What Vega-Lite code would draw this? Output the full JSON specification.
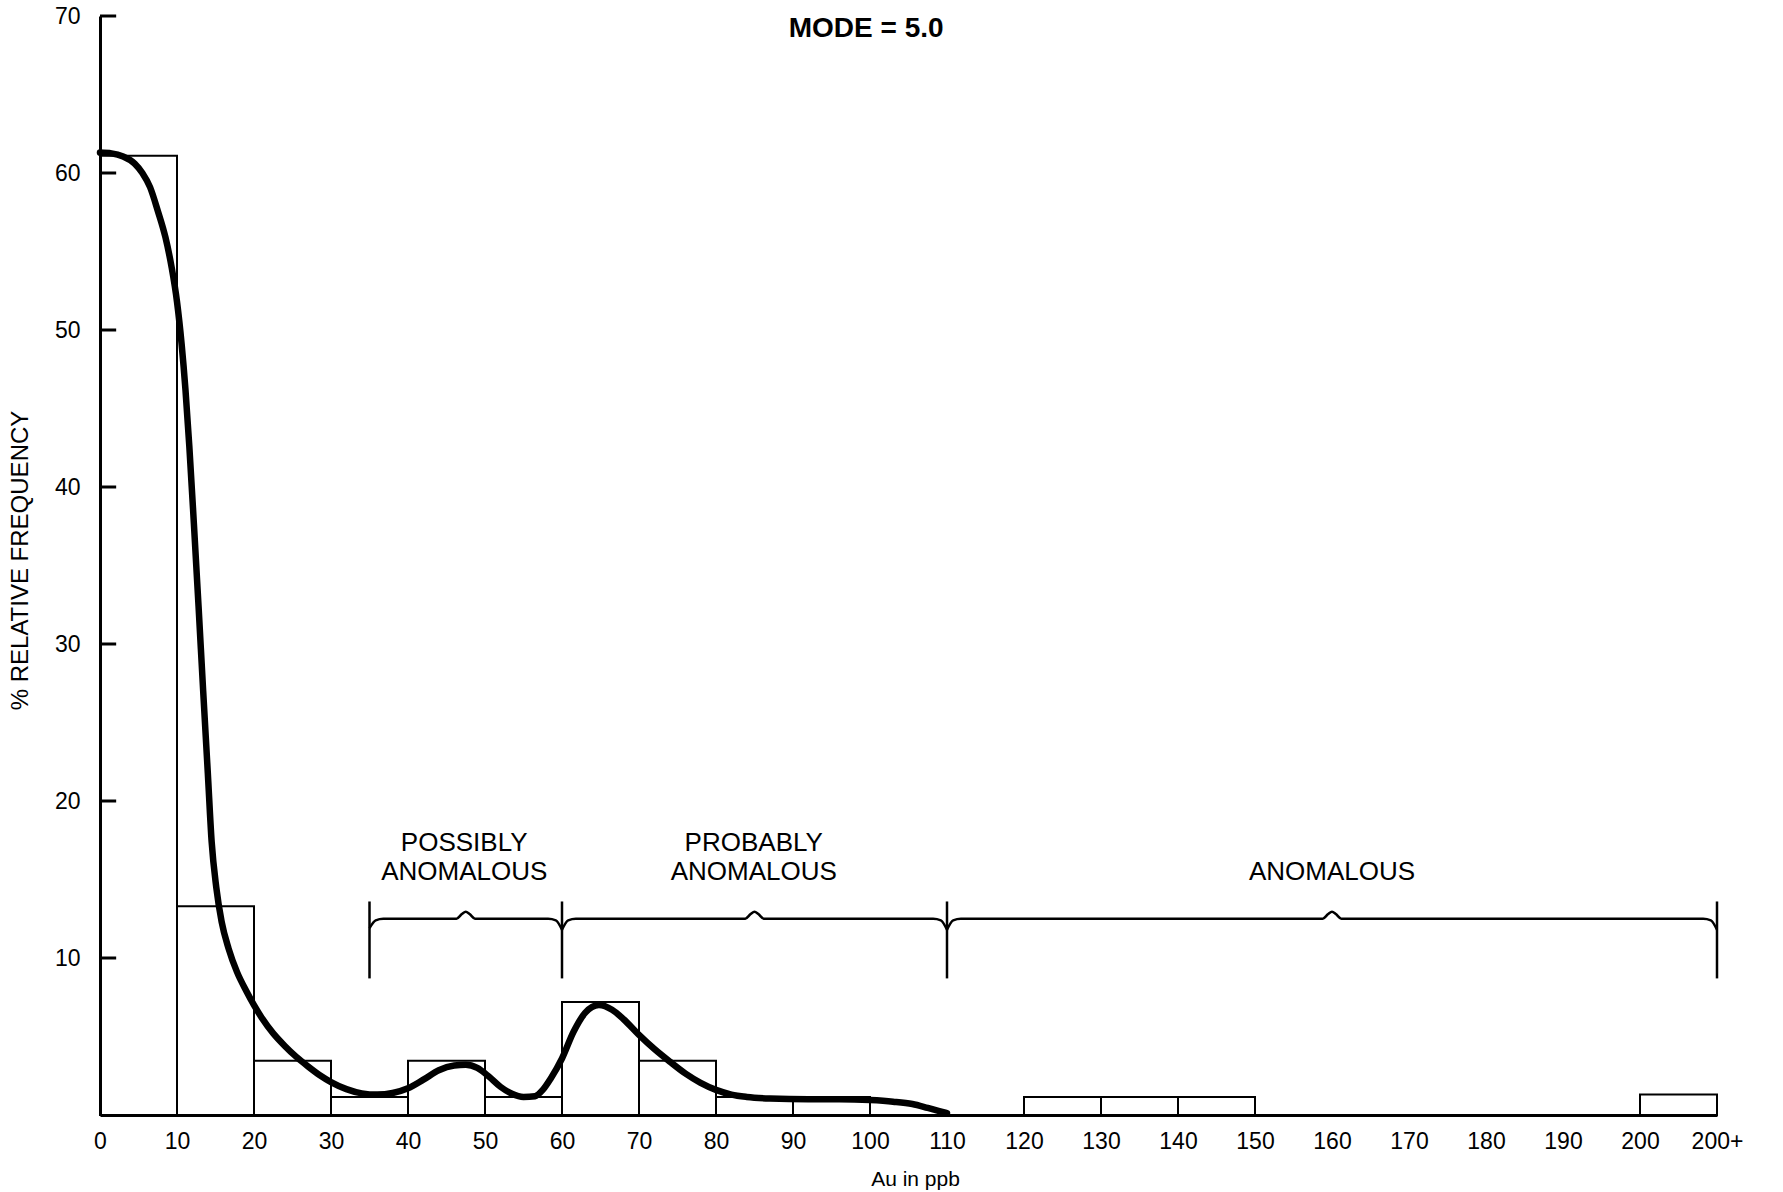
{
  "$schema": "https://vega.github.io/schema/vega-lite/v6.json",
  "autosize": "none",
  "width": 1617,
  "height": 1099,
  "padding": {"left": 100, "top": 16, "right": 66, "bottom": 77},
  "background": "white",
  "config": {
    "view": {"stroke": null},
    "font": "Liberation Sans",
    "axis": {"grid": false, "ticks": false, "domainColor": "black", "domainWidth": 3, "labelColor": "black", "titleColor": "black", "labelFont": "Liberation Sans", "titleFont": "Liberation Sans"}
  },
  "datasets": {
    "bins": [
      {"au": 0, "au_end": 10, "pct": 61.1},
      {"au": 10, "au_end": 20, "pct": 13.3},
      {"au": 20, "au_end": 30, "pct": 3.45},
      {"au": 30, "au_end": 40, "pct": 1.15},
      {"au": 40, "au_end": 50, "pct": 3.45},
      {"au": 50, "au_end": 60, "pct": 1.15},
      {"au": 60, "au_end": 70, "pct": 7.2},
      {"au": 70, "au_end": 80, "pct": 3.45},
      {"au": 80, "au_end": 90, "pct": 1.15},
      {"au": 90, "au_end": 100, "pct": 1.15},
      {"au": 120, "au_end": 130, "pct": 1.15},
      {"au": 130, "au_end": 140, "pct": 1.15},
      {"au": 140, "au_end": 150, "pct": 1.15},
      {"au": 200, "au_end": 210, "pct": 1.3}
    ],
    "smooth": [
      {"au": 0, "pct": 61.3}, {"au": 1.5, "pct": 61.25}, {"au": 3, "pct": 61.05},
      {"au": 4.5, "pct": 60.6}, {"au": 5.5, "pct": 60.0}, {"au": 6.5, "pct": 59.1},
      {"au": 7.5, "pct": 57.6}, {"au": 8.5, "pct": 55.9}, {"au": 9.3, "pct": 54.0},
      {"au": 10, "pct": 51.8}, {"au": 10.6, "pct": 49.1}, {"au": 11.1, "pct": 46.2},
      {"au": 11.6, "pct": 42.6}, {"au": 12.2, "pct": 37.6}, {"au": 12.8, "pct": 32.4},
      {"au": 13.4, "pct": 27}, {"au": 14, "pct": 21.8}, {"au": 14.5, "pct": 17.4},
      {"au": 15.1, "pct": 14.5}, {"au": 15.8, "pct": 12.3}, {"au": 16.7, "pct": 10.6},
      {"au": 17.8, "pct": 9.1}, {"au": 19, "pct": 7.9}, {"au": 20, "pct": 7.0},
      {"au": 21, "pct": 6.2}, {"au": 22.5, "pct": 5.2}, {"au": 24, "pct": 4.4},
      {"au": 25.5, "pct": 3.7}, {"au": 27, "pct": 3.1}, {"au": 28.5, "pct": 2.55},
      {"au": 30, "pct": 2.1}, {"au": 32, "pct": 1.65}, {"au": 34, "pct": 1.38},
      {"au": 36, "pct": 1.3}, {"au": 38, "pct": 1.4}, {"au": 40, "pct": 1.7},
      {"au": 42, "pct": 2.25}, {"au": 44, "pct": 2.85}, {"au": 46, "pct": 3.15},
      {"au": 47.5, "pct": 3.2}, {"au": 49, "pct": 3.0}, {"au": 50.5, "pct": 2.45},
      {"au": 52, "pct": 1.8}, {"au": 53.5, "pct": 1.35}, {"au": 55, "pct": 1.15},
      {"au": 56.5, "pct": 1.2}, {"au": 57.5, "pct": 1.6}, {"au": 58.5, "pct": 2.3},
      {"au": 60, "pct": 3.6}, {"au": 61.5, "pct": 5.3}, {"au": 63, "pct": 6.5},
      {"au": 64.8, "pct": 7.0}, {"au": 66.5, "pct": 6.7}, {"au": 68, "pct": 6.1},
      {"au": 70, "pct": 5.1}, {"au": 72, "pct": 4.2}, {"au": 74, "pct": 3.4},
      {"au": 76, "pct": 2.65}, {"au": 78, "pct": 2.05}, {"au": 80, "pct": 1.6},
      {"au": 82, "pct": 1.3}, {"au": 84, "pct": 1.15}, {"au": 87, "pct": 1.05},
      {"au": 92, "pct": 1.0}, {"au": 96, "pct": 1.0}, {"au": 100, "pct": 0.95},
      {"au": 103, "pct": 0.85}, {"au": 105.5, "pct": 0.7}, {"au": 107.5, "pct": 0.45},
      {"au": 109, "pct": 0.25}, {"au": 110, "pct": 0.12}
    ],
    "braces": [
      {"zone": "possibly", "au": 35, "pct": 11.9}, {"zone": "possibly", "au": 35.8, "pct": 12.4},
      {"zone": "possibly", "au": 36.8, "pct": 12.5}, {"zone": "possibly", "au": 46.3, "pct": 12.5},
      {"zone": "possibly", "au": 47.0, "pct": 12.8}, {"zone": "possibly", "au": 47.5, "pct": 12.95},
      {"zone": "possibly", "au": 48.0, "pct": 12.8}, {"zone": "possibly", "au": 48.7, "pct": 12.5},
      {"zone": "possibly", "au": 58.2, "pct": 12.5}, {"zone": "possibly", "au": 59.2, "pct": 12.4},
      {"zone": "possibly", "au": 60, "pct": 11.8},
      {"zone": "probably", "au": 60, "pct": 11.8}, {"zone": "probably", "au": 60.8, "pct": 12.4},
      {"zone": "probably", "au": 61.8, "pct": 12.5}, {"zone": "probably", "au": 83.8, "pct": 12.5},
      {"zone": "probably", "au": 84.5, "pct": 12.8}, {"zone": "probably", "au": 85, "pct": 12.95},
      {"zone": "probably", "au": 85.5, "pct": 12.8}, {"zone": "probably", "au": 86.2, "pct": 12.5},
      {"zone": "probably", "au": 108.2, "pct": 12.5}, {"zone": "probably", "au": 109.2, "pct": 12.4},
      {"zone": "probably", "au": 110, "pct": 11.8},
      {"zone": "anomalous", "au": 110, "pct": 11.8}, {"zone": "anomalous", "au": 110.8, "pct": 12.4},
      {"zone": "anomalous", "au": 111.8, "pct": 12.5}, {"zone": "anomalous", "au": 158.8, "pct": 12.5},
      {"zone": "anomalous", "au": 159.5, "pct": 12.8}, {"zone": "anomalous", "au": 160, "pct": 12.95},
      {"zone": "anomalous", "au": 160.5, "pct": 12.8}, {"zone": "anomalous", "au": 161.2, "pct": 12.5},
      {"zone": "anomalous", "au": 208.2, "pct": 12.5}, {"zone": "anomalous", "au": 209.2, "pct": 12.4},
      {"zone": "anomalous", "au": 210, "pct": 11.8}
    ],
    "limits": [
      {"au": 35, "pct": 8.7, "pct_top": 13.6},
      {"au": 60, "pct": 8.7, "pct_top": 13.6},
      {"au": 110, "pct": 8.7, "pct_top": 13.6},
      {"au": 210, "pct": 8.7, "pct_top": 13.6}
    ],
    "notes": [
      {"au": 47.3, "pct": 17.3, "text": "POSSIBLY"},
      {"au": 47.3, "pct": 15.5, "text": "ANOMALOUS"},
      {"au": 84.9, "pct": 17.3, "text": "PROBABLY"},
      {"au": 84.9, "pct": 15.5, "text": "ANOMALOUS"},
      {"au": 160, "pct": 15.5, "text": "ANOMALOUS"}
    ],
    "yticks": [{"pct": 10}, {"pct": 20}, {"pct": 30}, {"pct": 40}, {"pct": 50}, {"pct": 60}, {"pct": 70}],
    "mode": [{"au": 99.5, "pct": 69.2, "text": "MODE = 5.0"}]
  },
  "layer": [
    {
      "data": {"name": "bins"},
      "mark": {"type": "rect", "fill": "white", "fillOpacity": 0, "stroke": "black", "strokeWidth": 2},
      "encoding": {
        "x": {
          "field": "au", "type": "quantitative",
          "scale": {"domain": [0, 210], "nice": false, "zero": false},
          "axis": {
            "values": [0, 10, 20, 30, 40, 50, 60, 70, 80, 90, 100, 110, 120, 130, 140, 150, 160, 170, 180, 190, 200, 210],
            "labelExpr": "datum.value == 210 ? '200+' : datum.label",
            "labelFontSize": 23, "labelPadding": 26, "labelBaseline": "middle",
            "labelFlush": false, "labelOverlap": false,
            "title": "Au in ppb", "titleFontSize": 21, "titleFontWeight": "normal",
            "titleX": 815, "titleY": 64, "titleBaseline": "middle", "titleAlign": "center"
          }
        },
        "x2": {"field": "au_end"},
        "y": {
          "field": "pct", "type": "quantitative",
          "scale": {"domain": [0, 70], "nice": false},
          "axis": {
            "values": [10, 20, 30, 40, 50, 60, 70],
            "labelFontSize": 23, "labelPadding": 20,
            "title": "% RELATIVE FREQUENCY", "titleFontSize": 24, "titleFontWeight": "normal",
            "titleX": -80, "titleY": 544, "titleAngle": -90, "titleBaseline": "middle", "titleAlign": "center"
          }
        },
        "y2": {"datum": 0}
      }
    },
    {
      "data": {"name": "yticks"},
      "mark": {"type": "rule", "color": "black", "strokeWidth": 3},
      "encoding": {
        "y": {"field": "pct", "type": "quantitative"},
        "x": {"datum": 0, "type": "quantitative"},
        "x2": {"datum": 2.1}
      }
    },
    {
      "data": {"name": "smooth"},
      "mark": {"type": "line", "color": "black", "strokeWidth": 6.5, "interpolate": "monotone", "strokeCap": "round", "strokeJoin": "round"},
      "encoding": {
        "x": {"field": "au", "type": "quantitative"},
        "y": {"field": "pct", "type": "quantitative"}
      }
    },
    {
      "data": {"name": "braces"},
      "mark": {"type": "line", "color": "black", "strokeWidth": 2.5, "interpolate": "monotone"},
      "encoding": {
        "x": {"field": "au", "type": "quantitative"},
        "y": {"field": "pct", "type": "quantitative"},
        "detail": {"field": "zone"}
      }
    },
    {
      "data": {"name": "limits"},
      "mark": {"type": "rule", "color": "black", "strokeWidth": 2.5},
      "encoding": {
        "x": {"field": "au", "type": "quantitative"},
        "y": {"field": "pct", "type": "quantitative"},
        "y2": {"field": "pct_top"}
      }
    },
    {
      "data": {"name": "notes"},
      "mark": {"type": "text", "font": "Liberation Sans", "fontSize": 26, "color": "black", "align": "center", "baseline": "middle"},
      "encoding": {
        "x": {"field": "au", "type": "quantitative"},
        "y": {"field": "pct", "type": "quantitative"},
        "text": {"field": "text"}
      }
    },
    {
      "data": {"name": "mode"},
      "mark": {"type": "text", "font": "Liberation Sans", "fontSize": 28, "fontWeight": "bold", "color": "black", "align": "center", "baseline": "middle"},
      "encoding": {
        "x": {"field": "au", "type": "quantitative"},
        "y": {"field": "pct", "type": "quantitative"},
        "text": {"field": "text"}
      }
    }
  ]
}
